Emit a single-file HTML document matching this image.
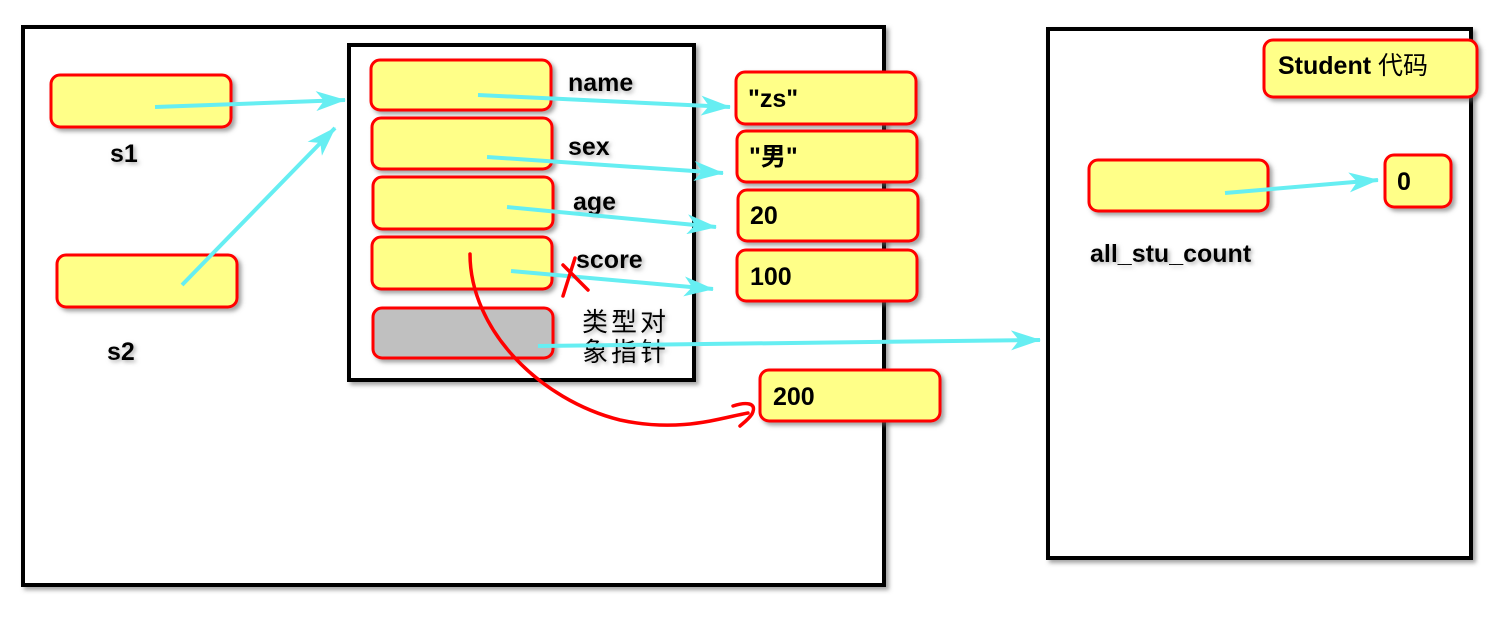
<!DOCTYPE html>
<html><head><meta charset="utf-8"><style>
html,body{margin:0;padding:0;background:#fff;width:1496px;height:619px;overflow:hidden}
text{font-family:"Liberation Sans","Noto Sans CJK SC",sans-serif;font-weight:bold;font-size:25px;fill:#000}
.lbl{filter:url(#sh)}
.y{fill:#ffff88;stroke:#ff0000;stroke-width:3}
.c{stroke:#66eef2;stroke-width:4;fill:none}
.frame{fill:#fff;stroke:#000;stroke-width:4;filter:url(#fs)}
</style></head><body>
<svg width="1496" height="619" xmlns="http://www.w3.org/2000/svg">
<defs>
<filter id="sh"><feDropShadow dx="2" dy="2" stdDeviation="2" flood-color="#888" flood-opacity="0.7"/></filter>
<filter id="fs"><feDropShadow dx="3" dy="3" stdDeviation="2" flood-color="#666" flood-opacity="0.6"/></filter>
<marker id="ah" markerWidth="30" markerHeight="20" refX="29" refY="10" orient="auto" markerUnits="userSpaceOnUse" viewBox="0 0 30 20">
<path d="M0,0 L30,10 L0,20 L8,10 Z" fill="#66eef2"/></marker>
</defs>
<g>
<rect class="frame" x="23" y="27" width="861" height="558"/>
<rect class="frame" x="349" y="45" width="345" height="335"/>
</g>
<rect class="frame" x="1048" y="29" width="423" height="529"/>

<g filter="url(#fs)">
<rect class="y" x="51" y="75" width="180" height="52" rx="9"/>
<rect class="y" x="57" y="255" width="180" height="52" rx="9"/>
<rect class="y" x="371" y="60" width="180" height="50" rx="9"/>
<rect class="y" x="372" y="118" width="180" height="51" rx="9"/>
<rect class="y" x="373" y="177" width="180" height="52" rx="9"/>
<rect class="y" x="372" y="237" width="180" height="52" rx="9"/>
<rect x="373" y="308" width="180" height="50" rx="9" fill="#c0c0c0" stroke="#ff0000" stroke-width="3"/>
<rect class="y" x="736" y="72" width="180" height="52" rx="9"/>
<rect class="y" x="737" y="131" width="180" height="51" rx="9"/>
<rect class="y" x="738" y="190" width="180" height="51" rx="9"/>
<rect class="y" x="737" y="250" width="180" height="51" rx="9"/>
<rect class="y" x="760" y="370" width="180" height="51" rx="9"/>
<rect class="y" x="1264" y="40" width="213" height="57" rx="9"/>
<rect class="y" x="1089" y="160" width="179" height="51" rx="9"/>
<rect class="y" x="1385" y="155" width="66" height="52" rx="9"/>
</g>

<g class="lbl">
<text x="110" y="162">s1</text>
<text x="107" y="360">s2</text>
<text x="568" y="91">name</text>
<text x="568" y="155">sex</text>
<text x="573" y="210">age</text>
<text x="576" y="268">score</text>
<text x="582" y="331" style="font-weight:normal;font-size:26px;letter-spacing:3px">类型对</text>
<text x="582" y="361" style="font-weight:normal;font-size:26px;letter-spacing:3px">象指针</text>
<text x="1090" y="262">all_stu_count</text>
</g>
<text x="748" y="107">"zs"</text>
<text x="749" y="165">"男"</text>
<text x="750" y="224">20</text>
<text x="750" y="285">100</text>
<text x="773" y="405">200</text>
<text x="1278" y="74" style="font-size:25px">Student <tspan style="font-weight:normal">代码</tspan></text>
<text x="1397" y="190">0</text>

<g>
<line class="c" x1="155" y1="107" x2="345" y2="100" marker-end="url(#ah)"/>
<line class="c" x1="182" y1="285" x2="335" y2="128" marker-end="url(#ah)"/>
<line class="c" x1="478" y1="95" x2="730" y2="107" marker-end="url(#ah)"/>
<line class="c" x1="487" y1="157" x2="723" y2="173" marker-end="url(#ah)"/>
<line class="c" x1="507" y1="207" x2="716" y2="227" marker-end="url(#ah)"/>
<line class="c" x1="511" y1="271" x2="713" y2="289" marker-end="url(#ah)"/>
<line class="c" x1="538" y1="346" x2="1040" y2="340" marker-end="url(#ah)"/>
<line class="c" x1="1225" y1="193" x2="1378" y2="180" marker-end="url(#ah)"/>
</g>
<g stroke="#ff0000" stroke-width="3.5" fill="none" stroke-linecap="round">
<path d="M470,254 C470,330 540,400 620,420 C680,433 720,418 748,413"/>
<path d="M733,406 C745,402 758,402 752,414 C748,420 742,424 740,426"/>
<path d="M575,258 L563,296 M563,265 L588,290"/>
</g>
</svg>
</body></html>
